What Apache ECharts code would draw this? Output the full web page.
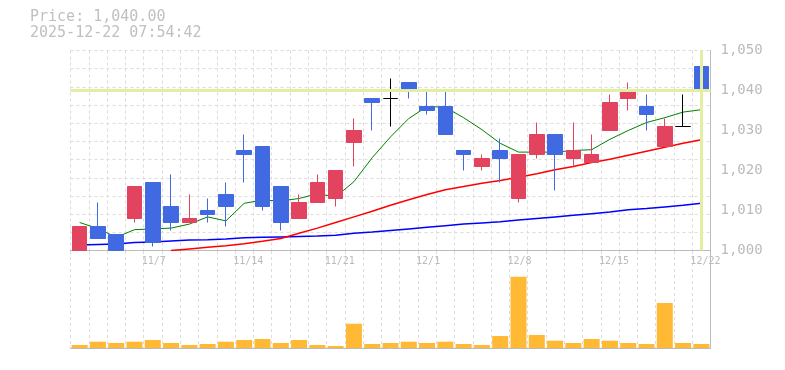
<!DOCTYPE html>
<html>
<head>
<meta charset="utf-8">
<script src="https://cdn.jsdelivr.net/npm/echarts@6/dist/echarts.min.js"></script>
<style>
html,body{margin:0;padding:0;background:#fff;}
#chart{width:785px;height:370px;}
</style>
</head>
<body>
<div id="chart"></div>
<script>
const dates = ['10/31','11/4','11/5','11/6','11/7','11/10','11/11','11/12','11/13','11/14',
  '11/17','11/18','11/19','11/20','11/21','11/25','11/26','11/27','11/28','12/1',
  '12/2','12/3','12/4','12/5','12/8','12/9','12/10','12/11','12/12','12/15',
  '12/16','12/17','12/18','12/19','12/22'];
const tickLabels = ['11/7','11/14','11/21','12/1','12/8','12/15','12/22'];
const opens  = [1000,1006,1004,1008,1017,1011,1007,1010,1014,1025,1026,1016,1008,1012,1013,1027,1038,1038,1042,1036,1036,1025,1021,1025,1013,1024,1029,1023,1022,1030,1038,1036,1026,1031,1046];
const closes = [1006,1003,1000,1016,1002,1007,1008,1009,1011,1024,1011,1007,1012,1017,1020,1030,1037,1038,1040,1035,1029,1024,1023,1023,1024,1029,1024,1025,1024,1037,1040,1034,1031,1031,1040];
const lows   = [1000,1003,1000,1007,1001,1005,1007,1007,1006,1017,1010,1005,1008,1012,1011,1021,1030,1031,1038,1034,1029,1020,1020,1017,1012,1023,1015,1021,1022,1030,1035,1030,1026,1031,1035];
const highs  = [1006,1012,1004,1016,1017,1019,1014,1013,1017,1029,1026,1016,1014,1019,1020,1033,1038,1043,1042,1040,1040,1025,1024,1028,1024,1032,1029,1032,1029,1039,1042,1039,1033,1039,1046];
const volumes = [3000,6300,5000,6300,8000,5000,3000,4000,6300,8000,9000,5000,8000,3000,2000,24300,4000,5000,6300,5000,6300,4000,3000,12000,71300,13000,7300,5000,9000,7300,5000,4000,45000,5000,4000];
const ma5  = [1007.0,1005.5,1003.3,1005.2,1005.4,1005.6,1006.6,1008.4,1007.4,1011.8,1012.6,1012.4,1013.0,1014.2,1013.4,1017.2,1023.2,1028.4,1033.0,1036.0,1035.8,1033.2,1030.2,1026.8,1024.6,1024.6,1024.6,1025.0,1025.2,1027.8,1030.0,1032.0,1033.2,1034.6,1035.2];
const ma25 = [null,null,null,null,null,1000.0,1000.4,1000.8,1001.2,1001.7,1002.3,1003.0,1004.3,1005.6,1007.0,1008.4,1009.8,1011.3,1012.7,1014.0,1015.2,1016.0,1016.8,1017.5,1018.3,1019.2,1020.2,1021.0,1022.0,1022.8,1023.8,1024.8,1025.8,1026.8,1027.7];
const ma75 = [1001.4,1001.5,1001.6,1002.0,1002.1,1002.4,1002.6,1002.7,1002.9,1003.2,1003.3,1003.4,1003.5,1003.6,1003.8,1004.3,1004.6,1005.0,1005.4,1005.8,1006.2,1006.6,1006.9,1007.2,1007.6,1008.0,1008.4,1008.8,1009.2,1009.6,1010.2,1010.5,1010.9,1011.3,1011.8];
const priceMin = 1000, priceMax = 1050, priceStep = 10;
const currentPrice = 1040;
const currentDate = '12/22';
const timestamp = '2025-12-22 07:54:42';

const MONO = '"DejaVu Sans Mono", "Liberation Mono", monospace';
const GRAY = '#bbbbbb';
const GRID_DASH = { color: '#dcdcdc', width: 1, type: [3, 3] };
const fmt = v => v.toLocaleString('en-US');

const candleData = dates.map((d, i) => [opens[i], closes[i], lows[i], highs[i]]);

const chart = echarts.init(document.getElementById('chart'), null, { renderer: 'canvas' });
chart.setOption({
  animation: false,
  backgroundColor: '#ffffff',
  graphic: [
    { type: 'text', left: 30, top: 10, silent: true,
      style: { text: 'Price: ' + closes[closes.length - 1].toLocaleString('en-US', { minimumFractionDigits: 2, maximumFractionDigits: 2 }), font: '15px ' + MONO, fill: '#c0c0c0' } },
    { type: 'text', left: 30, top: 26, silent: true,
      style: { text: timestamp, font: '15px ' + MONO, fill: '#c0c0c0' } }
  ],
  grid: [
    { left: 70.5, right: 74.5, top: 50.5, height: 200 },
    { left: 70.5, right: 74.5, top: 251, bottom: 22 }
  ],
  xAxis: [
    { type: 'category', gridIndex: 0, data: dates, boundaryGap: true,
      axisLine: { show: true, lineStyle: { color: GRAY, width: 1 } },
      axisTick: { show: false },
      splitLine: { show: true, interval: 0, lineStyle: GRID_DASH },
      axisLabel: {
        interval: (idx, val) => tickLabels.indexOf(val) >= 0,
        margin: 6,
        formatter: v => '{a|' + v + '}',
        rich: { a: { width: 22, align: 'left', fontFamily: MONO, fontSize: 10, color: GRAY } }
      }
    },
    { type: 'category', gridIndex: 1, data: dates, boundaryGap: true, offset: 2,
      axisLine: { show: true, lineStyle: { color: GRAY, width: 1 } },
      axisTick: { show: false },
      axisLabel: { show: false },
      splitLine: { show: true, interval: 0, lineStyle: GRID_DASH }
    }
  ],
  yAxis: [
    { type: 'value', gridIndex: 0, position: 'right', min: priceMin, max: priceMax, interval: priceStep,
      axisLine: { show: true, lineStyle: { color: GRAY, width: 1 } },
      axisTick: { show: false },
      splitLine: { show: false },
      axisLabel: { margin: 10, padding: [4, 0, 0, 0], formatter: v => fmt(v), fontFamily: MONO, fontSize: 14, color: GRAY }
    },
    { type: 'value', gridIndex: 0, position: 'left', min: 0, max: 11, interval: 1,
      axisLine: { show: false }, axisTick: { show: false }, axisLabel: { show: false },
      splitLine: { show: true, lineStyle: GRID_DASH }
    },
    { type: 'value', gridIndex: 1, position: 'right', min: 0, max: 97000,
      axisLine: { show: true, lineStyle: { color: GRAY, width: 1 } },
      axisTick: { show: false }, axisLabel: { show: false }, splitLine: { show: false }
    }
  ],
  series: [
    { type: 'line', name: 'guide', xAxisIndex: 0, yAxisIndex: 0, data: [], z: 1,
      markLine: {
        silent: true, symbol: ['none', 'none'], label: { show: false }, animation: false,
        lineStyle: { color: '#e2efa3', width: 3, type: 'solid' },
        data: [ { yAxis: currentPrice }, { xAxis: currentDate } ]
      }
    },
    { type: 'line', name: 'MA75', xAxisIndex: 0, yAxisIndex: 0, data: ma75, z: 2,
      showSymbol: false, lineStyle: { color: '#0000ff', width: 1.5 } },
    { type: 'line', name: 'MA25', xAxisIndex: 0, yAxisIndex: 0, data: ma25, z: 2,
      showSymbol: false, lineStyle: { color: '#ff0000', width: 1.5 } },
    { type: 'line', name: 'MA5', xAxisIndex: 0, yAxisIndex: 0, data: ma5, z: 2,
      showSymbol: false, lineStyle: { color: '#008000', width: 1 } },
    { type: 'candlestick', name: 'price', xAxisIndex: 0, yAxisIndex: 0, data: candleData, z: 3,
      barWidth: 15,
      itemStyle: {
        color: '#e2435f', color0: '#4169e1',
        borderColor: '#e2435f', borderColor0: '#4169e1', borderColorDoji: '#000000',
        borderWidth: 1
      }
    },
    { type: 'bar', name: 'volume', xAxisIndex: 1, yAxisIndex: 2, data: volumes, barWidth: 16,
      itemStyle: { color: '#ffb935' } }
  ]
});
</script>
</body>
</html>
